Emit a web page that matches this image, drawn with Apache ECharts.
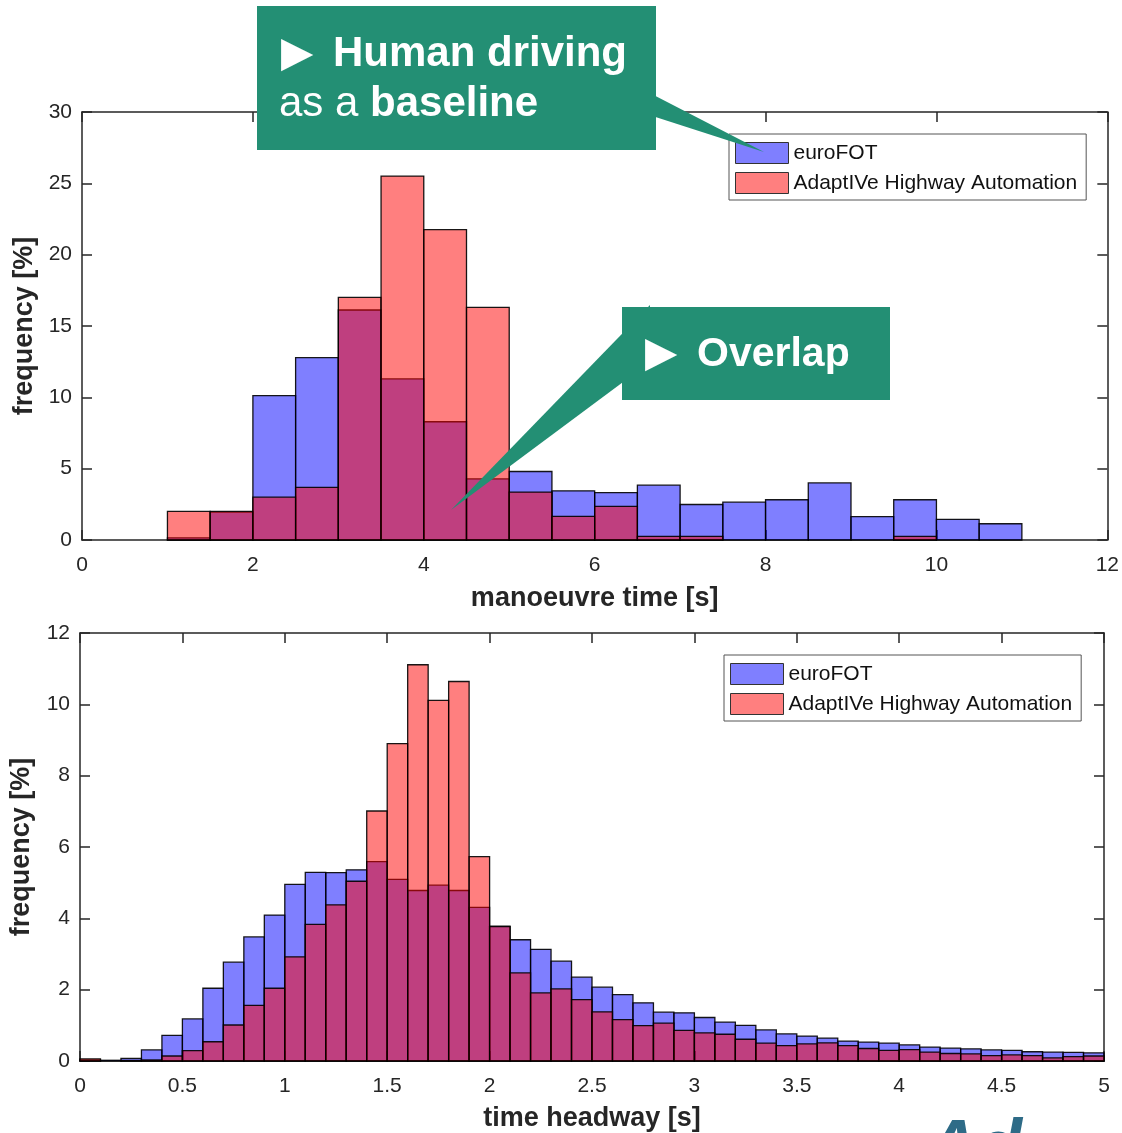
<!DOCTYPE html>
<html>
<head>
<meta charset="utf-8">
<script src="https://cdn.jsdelivr.net/npm/echarts@6/dist/echarts.min.js"></script>
<style>
html,body{margin:0;padding:0;background:#fff;}
#chart{width:1122px;height:1133px;}
</style>
</head>
<body>
<div id="chart"></div>
<script>
// ---------- DATA ----------
const seriesNames = ['euroFOT', 'AdaptIVe Highway Automation'];

// Top panel: manoeuvre time histogram (bin edges in s, frequency in %)
const topBinEdges = [1.0, 1.5, 2.0, 2.5, 3.0, 3.5, 4.0, 4.5, 5.0, 5.5, 6.0, 6.5, 7.0, 7.5, 8.0, 8.5, 9.0, 9.5, 10.0, 10.5, 11.0];
const topEuroFOT = [0.15, 1.95, 10.12, 12.78, 16.12, 11.29, 8.29, 4.28, 4.8, 3.45, 3.32, 3.84, 2.49, 2.65, 2.82, 4.0, 1.64, 2.82, 1.45, 1.14];
const topAdaptIVe = [2.0, 2.0, 3.0, 3.69, 17.0, 25.51, 21.75, 16.31, 3.36, 1.65, 2.35, 0.26, 0.26, 0, 0, 0, 0, 0.26, 0, 0];

// Bottom panel: time headway histogram
const botBinEdges = [0.0, 0.1, 0.2, 0.3, 0.4, 0.5, 0.6, 0.7, 0.8, 0.9,
  1.0, 1.1, 1.2, 1.3, 1.4, 1.5, 1.6, 1.7, 1.8, 1.9,
  2.0, 2.1, 2.2, 2.3, 2.4, 2.5, 2.6, 2.7, 2.8, 2.9,
  3.0, 3.1, 3.2, 3.3, 3.4, 3.5, 3.6, 3.7, 3.8, 3.9,
  4.0, 4.1, 4.2, 4.3, 4.4, 4.5, 4.6, 4.7, 4.8, 4.9, 5.0];
const botEuroFOT = [0.03, 0.02, 0.07, 0.31, 0.72, 1.18, 2.04, 2.77, 3.48, 4.09,
  4.95, 5.29, 5.28, 5.36, 5.59, 5.09, 4.78, 4.93, 4.78, 4.31,
  3.78, 3.40, 3.13, 2.80, 2.35, 2.07, 1.86, 1.63, 1.37, 1.35,
  1.22, 1.09, 1.00, 0.87, 0.76, 0.70, 0.64, 0.56, 0.53, 0.50,
  0.45, 0.39, 0.36, 0.34, 0.31, 0.30, 0.26, 0.25, 0.24, 0.23];
const botAdaptIVe = [0.06, 0, 0.01, 0.03, 0.14, 0.29, 0.54, 1.01, 1.56, 2.04,
  2.92, 3.83, 4.38, 5.04, 7.01, 8.90, 11.11, 10.11, 10.64, 5.73,
  3.77, 2.47, 1.91, 2.02, 1.72, 1.38, 1.16, 0.99, 1.06, 0.86,
  0.79, 0.75, 0.61, 0.50, 0.43, 0.48, 0.51, 0.43, 0.35, 0.30,
  0.32, 0.25, 0.21, 0.20, 0.15, 0.17, 0.15, 0.09, 0.12, 0.14];

// Axis tick settings
const topXTicks = {min: 0, max: 12, interval: 2};
const topYTicks = {min: 0, max: 30, interval: 5};
const botXTicks = {min: 0, max: 5, interval: 0.5};
const botYTicks = {min: 0, max: 12, interval: 2};

// ---------- BUILD ----------
function toBins(edges, vals) {
  return vals.map((v, i) => [edges[i], edges[i + 1], v]);
}

const FONT = '"Liberation Sans", Arial, Helvetica, sans-serif';
const AX = '#262626';
const BLUE = 'rgba(0,0,255,0.5)';
const RED = 'rgba(255,0,0,0.5)';
const GREEN = '#238f74';

function renderHist(params, api) {
  const y = api.value(2);
  if (!(y > 0)) return null;
  const p0 = api.coord([api.value(0), y]);
  const p1 = api.coord([api.value(1), 0]);
  return {
    type: 'rect',
    shape: {x: p0[0], y: p0[1], width: p1[0] - p0[0], height: p1[1] - p0[1]},
    style: {fill: api.visual('color'), stroke: 'rgba(0,0,0,0.9)', lineWidth: 1.3}
  };
}

function xAxes(gridIndex, t, name, nameGap) {
  return [
    {
      type: 'value', gridIndex, position: 'bottom', min: t.min, max: t.max, interval: t.interval,
      name, nameLocation: 'middle', nameGap,
      nameTextStyle: {fontFamily: FONT, fontSize: 27, fontWeight: 'bold', color: AX},
      axisLine: {show: true, onZero: false, lineStyle: {color: AX, width: 1.5}},
      axisTick: {show: true, inside: true, length: 10, lineStyle: {color: AX, width: 1.5}},
      axisLabel: {fontFamily: FONT, fontSize: 21, color: AX, margin: 15},
      splitLine: {show: false}
    },
    {
      type: 'value', gridIndex, position: 'top', min: t.min, max: t.max, interval: t.interval,
      axisLine: {show: true, onZero: false, lineStyle: {color: AX, width: 1.5}},
      axisTick: {show: true, inside: true, length: 10, lineStyle: {color: AX, width: 1.5}},
      axisLabel: {show: false},
      splitLine: {show: false}
    }
  ];
}
function yAxes(gridIndex, t, name, nameGap) {
  return [
    {
      type: 'value', gridIndex, position: 'left', min: t.min, max: t.max, interval: t.interval,
      name, nameLocation: 'middle', nameGap, nameRotate: 90,
      nameTextStyle: {fontFamily: FONT, fontSize: 27, fontWeight: 'bold', color: AX},
      axisLine: {show: true, onZero: false, lineStyle: {color: AX, width: 1.5}},
      axisTick: {show: true, inside: true, length: 10, lineStyle: {color: AX, width: 1.5}},
      axisLabel: {fontFamily: FONT, fontSize: 21, color: AX, margin: 10},
      splitLine: {show: false}
    },
    {
      type: 'value', gridIndex, position: 'right', min: t.min, max: t.max, interval: t.interval,
      axisLine: {show: true, onZero: false, lineStyle: {color: AX, width: 1.5}},
      axisTick: {show: true, inside: true, length: 10, lineStyle: {color: AX, width: 1.5}},
      axisLabel: {show: false},
      splitLine: {show: false}
    }
  ];
}

function legendAt(left, top) {
  return {
    left, top, orient: 'vertical',
    data: seriesNames,
    icon: 'rect', itemWidth: 53, itemHeight: 21, itemGap: 8,
    padding: [8, 9, 6, 6],
    borderColor: '#555', borderWidth: 1, backgroundColor: '#fff',
    itemStyle: {borderWidth: 1, borderColor: '#333'},
    textStyle: {fontFamily: FONT, fontSize: 21, color: '#111'},
    selectedMode: false
  };
}

const option = {
  animation: false,
  backgroundColor: '#fff',
  grid: [
    {left: 82, top: 112, width: 1026, height: 428},
    {left: 80, top: 633, width: 1024, height: 428}
  ],
  xAxis: [...xAxes(0, topXTicks, 'manoeuvre time [s]', 45), ...xAxes(1, botXTicks, 'time headway [s]', 44)],
  yAxis: [...yAxes(0, topYTicks, 'frequency [%]', 43), ...yAxes(1, botYTicks, 'frequency [%]', 45)],
  legend: [legendAt(729, 134), legendAt(724, 655)],
  series: [
    {name: seriesNames[0], type: 'custom', xAxisIndex: 0, yAxisIndex: 0, renderItem: renderHist,
     itemStyle: {color: BLUE, borderColor: '#000', borderWidth: 1}, data: toBins(topBinEdges, topEuroFOT), encode: {x: [0, 1], y: 2}},
    {name: seriesNames[1], type: 'custom', xAxisIndex: 0, yAxisIndex: 0, renderItem: renderHist,
     itemStyle: {color: RED, borderColor: '#000', borderWidth: 1}, data: toBins(topBinEdges, topAdaptIVe), encode: {x: [0, 1], y: 2}},
    {name: seriesNames[0], type: 'custom', xAxisIndex: 2, yAxisIndex: 2, renderItem: renderHist,
     itemStyle: {color: BLUE, borderColor: '#000', borderWidth: 1}, data: toBins(botBinEdges, botEuroFOT), encode: {x: [0, 1], y: 2}},
    {name: seriesNames[1], type: 'custom', xAxisIndex: 2, yAxisIndex: 2, renderItem: renderHist,
     itemStyle: {color: RED, borderColor: '#000', borderWidth: 1}, data: toBins(botBinEdges, botAdaptIVe), encode: {x: [0, 1], y: 2}}
  ],
  graphic: [
    // callout 1 pointer + box
    {type: 'polygon', z: 100, shape: {points: [[640, 88], [764, 152], [640, 112]]}, style: {fill: GREEN}},
    {type: 'rect', z: 101, shape: {x: 257, y: 6, width: 399, height: 144}, style: {fill: GREEN}},
    {type: 'text', z: 102, x: 281, y: 55,
     style: {text: '▶', font: '42px "DejaVu Sans", sans-serif', fill: '#fff', verticalAlign: 'middle'}},
    {type: 'text', z: 102, x: 333, y: 54,
     style: {text: 'Human driving', font: 'bold 42px ' + FONT, fill: '#fff', verticalAlign: 'middle'}},
    {type: 'text', z: 102, x: 279, y: 104,
     style: {
       text: '{r|as a }{b|baseline}', verticalAlign: 'middle',
       rich: {
         b: {fontFamily: FONT, fontSize: 42, fontWeight: 'bold', fill: '#fff'},
         r: {fontFamily: FONT, fontSize: 42, fontWeight: 'normal', fill: '#fff'}
       }
     }},
    // callout 2 pointer + box
    {type: 'polygon', z: 100, shape: {points: [[451, 510], [650, 305], [650, 362]]}, style: {fill: GREEN}},
    {type: 'rect', z: 101, shape: {x: 622, y: 307, width: 268, height: 93}, style: {fill: GREEN}},
    {type: 'text', z: 102, x: 645, y: 355,
     style: {text: '▶', font: '42px "DejaVu Sans", sans-serif', fill: '#fff', verticalAlign: 'middle'}},
    {type: 'text', z: 102, x: 697, y: 355,
     style: {text: 'Overlap', font: 'bold 41px ' + FONT, fill: '#fff', verticalAlign: 'middle'}},
    // partial logo at bottom right
    {type: 'text', z: 102, x: 926, y: 1114,
     style: {text: 'Ad', font: 'italic bold 72px ' + FONT, fill: '#2e6b87', verticalAlign: 'top'}}
  ]
};

const chart = echarts.init(document.getElementById('chart'), null, {renderer: 'canvas'});
chart.setOption(option);
</script>
</body>
</html>
